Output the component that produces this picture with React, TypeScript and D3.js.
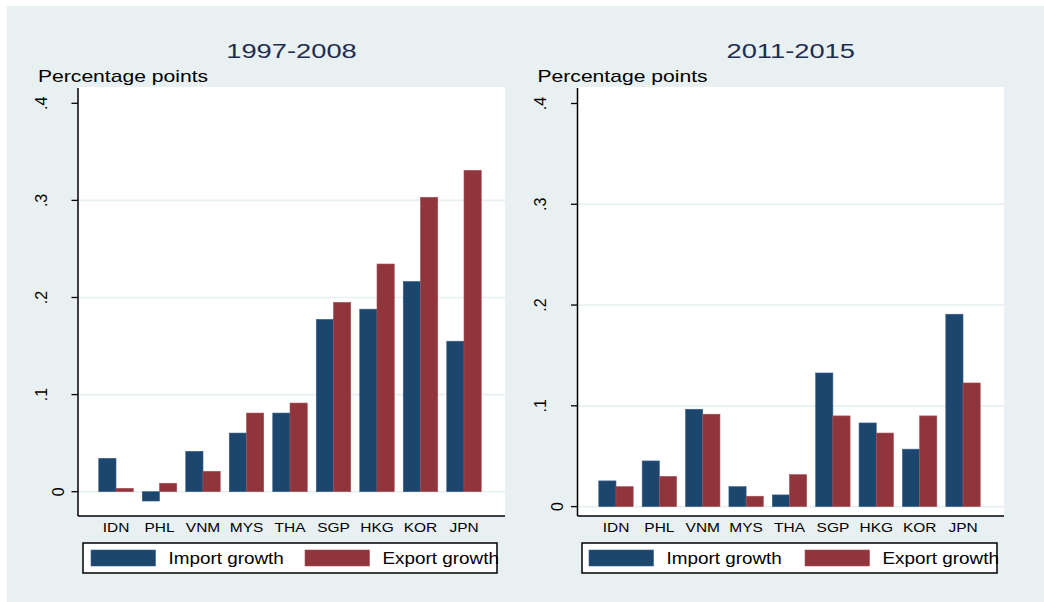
import React from 'react';
import * as d3 from 'd3';

const categories = ['IDN', 'PHL', 'VNM', 'MYS', 'THA', 'SGP', 'HKG', 'KOR', 'JPN'];
const seriesNames = ['Import growth', 'Export growth'];
const import1997 = [0.0344, -0.0096, 0.0416, 0.0604, 0.081, 0.1775, 0.188, 0.2165, 0.155];
const export1997 = [0.0035, 0.0087, 0.021, 0.081, 0.0913, 0.195, 0.2345, 0.3032, 0.331];
const import2011 = [0.0255, 0.0453, 0.0966, 0.0198, 0.0116, 0.1326, 0.083, 0.057, 0.1909];
const export2011 = [0.0198, 0.03, 0.0917, 0.0103, 0.0317, 0.09, 0.073, 0.09, 0.1227];
const yTicks = [0, 0.1, 0.2, 0.3, 0.4];
const yTickLabels = ['0', '.1', '.2', '.3', '.4'];
const gridTicks = [0, 0.1, 0.2, 0.3];
const panelTitles = ['1997-2008', '2011-2015'];
const yTitle = 'Percentage points';

const COLORS = ['#1c466e', '#90353b'];
const STROKES = ['#3a6088', '#a65158'];
const BG = '#e8f0f2';
const GRID = '#e6eff1';
const TITLE_COLOR = '#1f2d50';
const FONT = '"Liberation Sans", Arial, sans-serif';

type PanelLayout = {
  x0: number; x1: number; top: number; bottom: number;
  yZero: number; yTop: number; bandStart: number; bandEnd: number;
  legendX0: number; legendX1: number; swatch1: number; swatch2: number;
};

const layouts: PanelLayout[] = [
  { x0: 78, x1: 505, top: 87, bottom: 516, yZero: 491.7, yTop: 103.3, bandStart: 94.25, bandEnd: 485.75,
    legendX0: 83, legendX1: 497, swatch1: 91, swatch2: 305 },
  { x0: 577.5, x1: 1004, top: 87, bottom: 516, yZero: 506.6, yTop: 103.5, bandStart: 594.3, bandEnd: 984.7,
    legendX0: 582, legendX1: 997, swatch1: 589, swatch2: 805 },
];

const panelData = [
  [import1997, export1997],
  [import2011, export2011],
];

function Panel({ idx }: { idx: number }) {
  const L = layouts[idx];
  const data = panelData[idx];
  const y = d3.scaleLinear().domain([0, 0.4]).range([L.yZero, L.yTop]);
  const x = d3.scaleBand<string>().domain(categories).range([L.bandStart, L.bandEnd]).paddingInner(0.207).paddingOuter(0.1035);
  const xs = d3.scaleBand<string>().domain(seriesNames).range([0, x.bandwidth()]).padding(0);
  const cx = (L.x0 + L.x1) / 2;

  return (
    <g>
      <rect x={L.x0} y={L.top} width={L.x1 - L.x0} height={L.bottom - L.top} fill="#ffffff" />
      {gridTicks.map((t) => (
        <line key={t} x1={L.x0} x2={L.x1} y1={y(t)} y2={y(t)} stroke={GRID} strokeWidth={1.6} />
      ))}
      {categories.map((c, i) => (
        <g key={c}>
          {seriesNames.map((s, j) => {
            const v = data[j][i];
            const yv = y(v);
            const y0 = y(0);
            return (
              <rect key={s}
                x={(x(c) as number) + (xs(s) as number)}
                y={Math.min(yv, y0)}
                width={xs.bandwidth()}
                height={Math.abs(y0 - yv)}
                fill={COLORS[j]} stroke={STROKES[j]} strokeWidth={0.6} />
            );
          })}
          <text transform={`translate(${(x(c) as number) + x.bandwidth() / 2},532) scale(1.29,1)`}
            textAnchor="middle" fontSize={12} fontFamily={FONT} fill="#000">{c}</text>
        </g>
      ))}
      {/* axes */}
      <line x1={L.x0} x2={L.x0} y1={L.top + 1} y2={L.bottom} stroke="#000" strokeWidth={1.5} />
      <line x1={L.x0} x2={L.x1} y1={L.bottom} y2={L.bottom} stroke="#000" strokeWidth={1.5} />
      {yTicks.map((t, i) => (
        <g key={t}>
          <line x1={L.x0 - 6.5} x2={L.x0} y1={y(t)} y2={y(t)} stroke="#000" strokeWidth={1.3} />
          <text transform={`translate(${L.x0 - (yTickLabels[i] === '0' ? 14.5 : 31.5)},${y(t)}) rotate(-90)`}
            textAnchor="middle" fontSize={16} fontFamily={FONT} fill="#000">{yTickLabels[i]}</text>
        </g>
      ))}
      {/* titles */}
      <text transform={`translate(${cx},58) scale(1.3,1)`} textAnchor="middle" fontSize={21}
        fontFamily={FONT} fill={TITLE_COLOR}>{panelTitles[idx]}</text>
      <text transform={`translate(${L.x0 - 40},82) scale(1.32,1)`} fontSize={16} fontFamily={FONT}
        fill="#000">{yTitle}</text>
      {/* legend */}
      <rect x={L.legendX0} y={543} width={L.legendX1 - L.legendX0} height={30} fill="#fff" stroke="#000" strokeWidth={1.5} />
      {[L.swatch1, L.swatch2].map((sx, j) => (
        <g key={j}>
          <rect x={sx} y={550} width={64.5} height={16} fill={COLORS[j]} stroke={STROKES[j]} strokeWidth={0.6} />
          <text transform={`translate(${sx + 77.5},564) scale(1.18,1)`} fontSize={16} fontFamily={FONT}
            fill="#000">{seriesNames[j]}</text>
        </g>
      ))}
    </g>
  );
}

export default function App() {
  return (
    <svg width={1044} height={602} style={{ position: 'absolute', left: 0, top: 0, display: 'block' }}>
      <rect x={0} y={0} width={1044} height={602} fill="#ffffff" />
      <rect x={7} y={6} width={1037} height={596} fill={BG} />
      <Panel idx={0} />
      <Panel idx={1} />
    </svg>
  );
}
